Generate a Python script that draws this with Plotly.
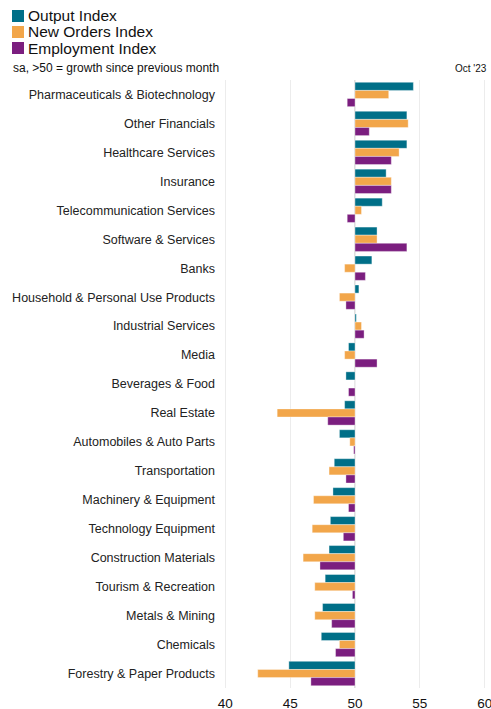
import plotly.graph_objects as go

# Sector PMI indices, Oct '23 (seasonally adjusted, >50 = growth)
sectors = [
    "Pharmaceuticals & Biotechnology", "Other Financials", "Healthcare Services",
    "Insurance", "Telecommunication Services", "Software & Services", "Banks",
    "Household & Personal Use Products", "Industrial Services", "Media",
    "Beverages & Food", "Real Estate", "Automobiles & Auto Parts", "Transportation",
    "Machinery & Equipment", "Technology Equipment", "Construction Materials",
    "Tourism & Recreation", "Metals & Mining", "Chemicals", "Forestry & Paper Products",
]
output_index = [54.5, 54.0, 54.0, 52.4, 52.1, 51.7, 51.3, 50.3, 50.1, 49.5, 49.3,
                49.2, 48.8, 48.4, 48.3, 48.1, 48.0, 47.7, 47.5, 47.4, 44.9]
new_orders_index = [52.6, 54.1, 53.4, 52.8, 50.5, 51.7, 49.2, 48.8, 50.5, 49.2, 50.0,
                    44.0, 49.6, 48.0, 46.8, 46.7, 46.0, 46.9, 46.9, 48.8, 42.5]
employment_index = [49.4, 51.1, 52.8, 52.8, 49.4, 54.0, 50.8, 49.3, 50.7, 51.7, 49.5,
                    47.9, 49.9, 49.3, 49.5, 49.1, 47.3, 49.8, 48.2, 48.5, 46.6]

series_names = ["Output Index", "New Orders Index", "Employment Index"]
series_values = [output_index, new_orders_index, employment_index]
series_colors = ["#006f88", "#f2a64a", "#7b1e7f"]
x_ticks = [40, 45, 50, 55, 60]
baseline = 50

# plot-area geometry (pixels) used to place the header items in paper coords
L, R, T, B, W, H = 224, 5, 80, 21, 491, 709
PW, PH = W - L - R, H - T - B


def px_x(x):
    return (x - L) / PW


def px_y(y):
    return (H - B - y) / PH


fig = go.Figure()
for name, vals, col in zip(series_names, series_values, series_colors):
    fig.add_trace(go.Bar(
        y=sectors, x=[v - baseline for v in vals], base=baseline,
        orientation="h", name=name,
        marker=dict(color=col, line=dict(width=0.6, color="rgba(255,255,255,0.6)")),
        showlegend=False,
    ))

# 50 = no-change reference line
fig.add_shape(type="line", xref="x", yref="paper", x0=baseline, x1=baseline, y0=0, y1=1,
              line=dict(color="#d4d4d4", width=1.5), layer="below")

# Legend drawn as swatches + labels
for i, (name, col) in enumerate(zip(series_names, series_colors)):
    yc = 16 + 16 * i
    fig.add_shape(type="rect", xref="paper", yref="paper",
                  x0=px_x(12), x1=px_x(24), y0=px_y(yc + 6), y1=px_y(yc - 6),
                  fillcolor=col, line=dict(width=0))
    fig.add_annotation(text=name, xref="paper", yref="paper",
                       x=px_x(26), y=px_y(yc), xanchor="left", yanchor="middle",
                       showarrow=False, font=dict(size=15.5, color="#111111"))

fig.add_annotation(text="sa, >50 = growth since previous month", xref="paper", yref="paper",
                   x=px_x(11), y=px_y(68), xanchor="left", yanchor="middle",
                   showarrow=False, font=dict(size=12, color="#111111"))
fig.add_annotation(text="Oct '23", xref="paper", yref="paper",
                   x=px_x(489), y=px_y(68), xanchor="right", yanchor="middle",
                   showarrow=False, font=dict(size=10, color="#111111"))

fig.update_layout(
    width=W, height=H,
    margin=dict(l=L, r=R, t=T, b=B),
    paper_bgcolor="white", plot_bgcolor="white",
    barmode="group", bargap=0.16, bargroupgap=0,
    font=dict(family="Liberation Sans, Arial, sans-serif", color="#222222"),
    xaxis=dict(range=[39.9, 60.1], tickvals=x_ticks, showgrid=True, gridcolor="#ececec",
               gridwidth=1, zeroline=False, showline=False, ticks="", ticklabelstandoff=5,
               ticklabeloverflow="allow", automargin=False,
               tickfont=dict(size=13.5, color="#111111")),
    yaxis=dict(autorange="reversed", showgrid=False, zeroline=False, showline=False,
               ticks="", ticklabelstandoff=8, automargin=False,
               tickfont=dict(size=12.5, color="#222222")),
)

fig.write_html("out.html")
